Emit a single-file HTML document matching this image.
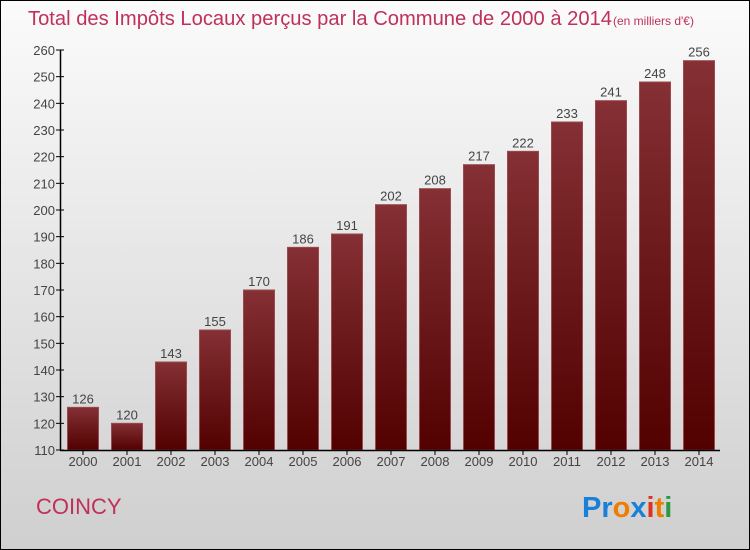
<!DOCTYPE html>
<html><head><meta charset="utf-8"><style>
body{margin:0;width:750px;height:550px;overflow:hidden}
svg{display:block;font-family:"Liberation Sans",sans-serif}
</style></head><body>
<svg id="c" width="750" height="550">
<defs>
<linearGradient id="bg" x1="0" y1="0" x2="0" y2="1"><stop offset="0" stop-color="#fbfbfb"/><stop offset="1" stop-color="#cfcfcf"/></linearGradient>
<linearGradient id="bar" x1="0" y1="0" x2="0" y2="1"><stop offset="0" stop-color="#843034"/><stop offset="1" stop-color="#520000"/></linearGradient>
</defs>
<rect x="0.5" y="0.5" width="749" height="549" fill="url(#bg)" stroke="#000"/>
<text x="28" y="25" font-size="20" fill="#c0305a" textLength="584" lengthAdjust="spacingAndGlyphs">Total des Impôts Locaux perçus par la Commune de 2000 à 2014</text>
<text x="613" y="25" font-size="12" fill="#c0305a">(en milliers d'€)</text>
<g id="plot"></g>
<text x="36" y="514" font-size="22" fill="#c0305a">COINCY</text>
<text x="582" y="517" font-size="29" font-weight="bold"><tspan fill="#1a7fd6">Pr</tspan><tspan fill="#f07c00">o</tspan><tspan fill="#1a7fd6">x</tspan><tspan fill="#e03020">i</tspan><tspan fill="#f07c00">t</tspan><tspan fill="#2a9a40">i</tspan></text>
</svg>
<script>
const years=["2000","2001","2002","2003","2004","2005","2006","2007","2008","2009","2010","2011","2012","2013","2014"];
const values=[126,120,143,155,170,186,191,202,208,217,222,233,241,248,256];
const yTicks=[110,120,130,140,150,160,170,180,190,200,210,220,230,240,250,260];
const NS="http://www.w3.org/2000/svg";
const g=document.getElementById('plot');
const y=v=>450-(v-110)*400/150;
const x=i=>83+i*44;
function mk(t,a,txt){const e=document.createElementNS(NS,t);for(const k in a)e.setAttribute(k,a[k]);if(txt!=null)e.textContent=txt;g.appendChild(e);return e;}
yTicks.forEach(v=>{
 const l=mk('line',{x1:56,x2:64,y1:y(v),y2:y(v),stroke:'#000'});
 
 
 const t=mk('text',{x:55,y:y(v)+5,'text-anchor':'end','font-size':13,fill:'#444'},v);
 
 
});
values.forEach((v,i)=>{
 const r=mk('rect',{x:x(i)-15.5,y:y(v),width:31,height:450-y(v),fill:'url(#bar)',stroke:'#9a4a4e','stroke-width':1});
 
 
 const t=mk('text',{x:x(i),y:y(v)-4,'text-anchor':'middle','font-size':13,fill:'#444'},v);
 
 
 const k=mk('line',{x1:x(i),x2:x(i),y1:450,y2:455,stroke:'#000'});
 
 
 const xl=mk('text',{x:x(i),y:466,'text-anchor':'middle','font-size':13,fill:'#444'},years[i]);
 
 
});
const ya=mk('line',{x1:60.5,x2:60.5,y1:y(260),y2:450,stroke:'#000','stroke-width':1.5});


const xa=mk('line',{x1:60,x2:720,y1:450.5,y2:450.5,stroke:'#000','stroke-width':1.5});


</script>
</body></html>
